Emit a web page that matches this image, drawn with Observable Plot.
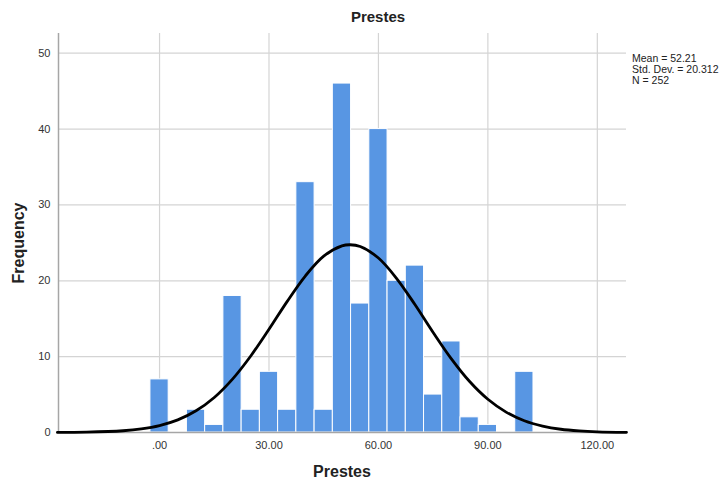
<!DOCTYPE html>
<html>
<head>
<meta charset="utf-8">
<script src="https://cdn.jsdelivr.net/npm/d3@7"></script>
<script src="https://cdn.jsdelivr.net/npm/@observablehq/plot@0.6"></script>
<style>
  html, body { margin: 0; padding: 0; background: #fff; }
  #chart { width: 720px; height: 479px; }
  svg { font-family: "Liberation Sans", Arial, sans-serif; }
</style>
</head>
<body>
<div id="chart"></div>
<script>
// Histogram bins (centers) and frequencies, bin width 5
const binCenters = [0, 5, 10, 15, 20, 25, 30, 35, 40, 45, 50, 55, 60, 65, 70, 75, 80, 85, 90, 95, 100];
const counts     = [7, 0, 3, 1, 18, 3, 8, 3, 33, 3, 46, 17, 40, 20, 22, 5, 12, 2, 1, 0, 8];
const binWidth = 5;

// Normal curve points
const curveX = [-28, -20, -10, -5, 0, 5, 10, 15, 20, 25, 30, 35, 40, 45, 50, 52.21, 55, 60, 65, 70, 75, 80, 85, 90, 95, 100, 105, 110, 115, 120, 128];
const curveY = [0.01, 0.045, 0.23, 0.47, 0.91, 1.66, 2.86, 4.62, 7.04, 10.09, 13.61, 17.29, 20.66, 23.24, 24.6, 24.75, 24.52, 23.0, 20.3, 16.87, 13.19, 9.71, 6.72, 4.38, 2.69, 1.55, 0.85, 0.43, 0.21, 0.09, 0.02];

const xTicks = [0, 30, 60, 90, 120];
const yTicks = [0, 10, 20, 30, 40, 50];
const statsLines = ["Mean = 52.21", "Std. Dev. = 20.312", "N = 252"];
const title = "Prestes";
const xLabel = "Prestes";
const yLabel = "Frequency";

const bars = binCenters.map((c, i) => ({x1: c - binWidth / 2, x2: c + binWidth / 2, y: counts[i]})).filter(d => d.y > 0);
const curve = curveX.map((x, i) => ({x, y: curveY[i]}));

const grid = "#d4d4d4";
const plot = Plot.plot({
  width: 720,
  height: 479,
  marginLeft: 58,
  marginRight: 94,
  marginTop: 33,
  marginBottom: 47,
  style: {fontFamily: "Liberation Sans, Arial, sans-serif", fontSize: "11px", color: "#333", background: "#fff"},
  x: {domain: [-27.7, 128], ticks: xTicks, tickFormat: d => d === 0 ? ".00" : d.toFixed(2)},
  y: {domain: [0, 52.6], ticks: yTicks},
  marks: [
    Plot.gridX(xTicks, {stroke: grid, strokeOpacity: 1, strokeWidth: 1.2}),
    Plot.gridY(yTicks.filter(d => d > 0), {stroke: grid, strokeOpacity: 1, strokeWidth: 1.2}),
    Plot.axisX({ticks: xTicks, tickSize: 0, tickPadding: 9, label: null, tickFormat: d => d === 0 ? ".00" : d.toFixed(2), fill: "#333"}),
    Plot.axisY({ticks: yTicks, tickSize: 0, tickPadding: 8, label: null, fill: "#333"}),
    Plot.rectY(bars, {x1: "x1", x2: "x2", y: "y", fill: "#5896e3", stroke: "#ffffff", strokeWidth: 1}),
    Plot.ruleY([0], {stroke: "#a6a6a6", strokeWidth: 1.5}),
    Plot.ruleX([-27.7], {stroke: "#a6a6a6", strokeWidth: 1.5}),
    Plot.line(curve, {x: "x", y: "y", curve: "catmull-rom", stroke: "#000", strokeWidth: 2.8})
  ]
});
document.getElementById("chart").appendChild(plot);

const svg = d3.select(plot);
svg.append("text").attr("x", 378).attr("y", 22).attr("text-anchor", "middle")
  .attr("font-size", 15).attr("font-weight", "bold").attr("fill", "#222").text(title);
svg.append("text").attr("x", 342).attr("y", 477).attr("text-anchor", "middle")
  .attr("font-size", 16).attr("font-weight", "bold").attr("fill", "#222").text(xLabel);
svg.append("text").attr("transform", "translate(24,243) rotate(-90)").attr("text-anchor", "middle")
  .attr("font-size", 16).attr("font-weight", "bold").attr("fill", "#222").text(yLabel);
svg.append("g").attr("text-anchor", "start").selectAll("text").data(statsLines).join("text")
  .attr("x", 632).attr("y", (d, i) => 62 + i * 11).attr("text-anchor", "start")
  .attr("font-size", 10.5).attr("fill", "#222").text(d => d);
</script>
</body>
</html>
